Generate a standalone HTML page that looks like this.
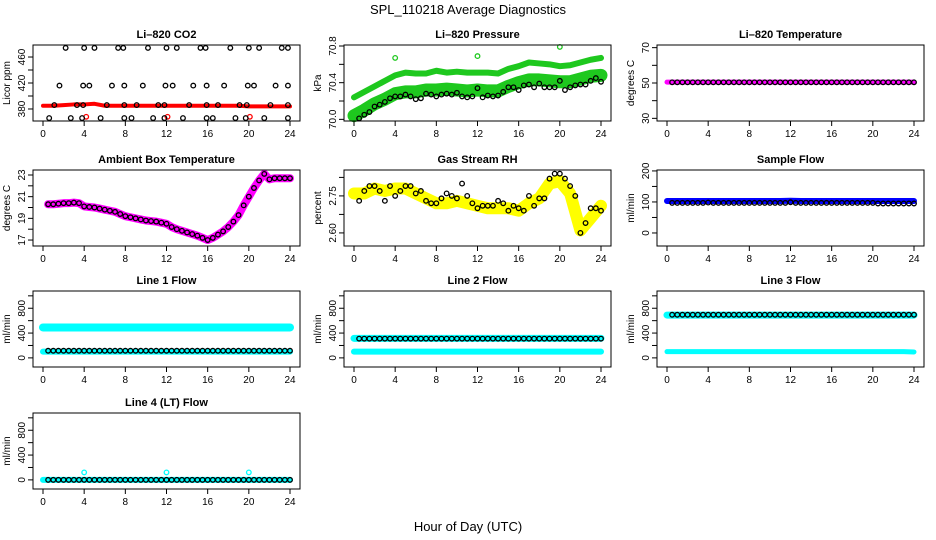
<!DOCTYPE html>
<html><head><meta charset="utf-8"><style>
html,body{margin:0;padding:0;background:#fff}
svg{display:block;font-family:"Liberation Sans",sans-serif}
</style></head><body>
<svg id="c" width="936" height="540" viewBox="0 0 936 540">
<text x="468" y="14" text-anchor="middle" font-size="13">SPL_110218  Average Diagnostics</text>
<text x="468" y="531" text-anchor="middle" font-size="13">Hour of Day (UTC)</text>
</svg>
<script>
// x categories
const hourly = [0,1,2,3,4,5,6,7,8,9,10,11,12,13,14,15,16,17,18,19,20,21,22,23,24];
const halfHours = [0.5,1,1.5,2,2.5,3,3.5,4,4.5,5,5.5,6,6.5,7,7.5,8,8.5,9,9.5,10,10.5,11,11.5,12,12.5,13,13.5,14,14.5,15,15.5,16,16.5,17,17.5,18,18.5,19,19.5,20,20.5,21,21.5,22,22.5,23,23.5,24];
const xTicks = [0,4,8,12,16,20,24];

// CO2
const co2Red = [385,385,386,387,387,388,385,385,385,385,385,385,385,385,385,385,385,385,385,385,384,384,384,384,384];
const co2TopHours = [2.2,4,5,7.3,7.8,10.2,12,13,15.3,15.8,18.2,20,21,23.2,23.8];
const co2MidHours = [1.6,3.9,4.5,6.7,7.9,9.7,11.9,12.6,14.6,15.9,17.6,19.9,20.5,22.6,23.8];
const co2LowHours = [1.1,3.3,3.9,6.2,7.9,9.1,11.2,11.8,14.2,15.9,17,19.1,19.8,22.1,23.8];
const co2BotHours = [0.6,2.7,3.8,5.6,7.9,8.6,10.7,11.8,13.6,15.9,16.5,18.7,19.7,21.5,23.8];
const co2Levels = [474,416,386,366];
const co2RedOutHours = [4.2,12.1,20.1];
const co2RedOutVals = [368,368,368];

// Pressure
const presUpper = [70.24,70.30,70.36,70.42,70.48,70.51,70.50,70.50,70.53,70.51,70.52,70.51,70.51,70.51,70.50,70.55,70.58,70.62,70.61,70.60,70.58,70.59,70.62,70.65,70.67];
const presLower = [70.04,70.10,70.17,70.22,70.28,70.30,70.30,70.32,70.32,70.33,70.32,70.31,70.32,70.31,70.31,70.36,70.40,70.43,70.43,70.42,70.41,70.41,70.44,70.47,70.48];
const presBlack = [70.01,70.05,70.08,70.14,70.16,70.19,70.23,70.25,70.25,70.27,70.25,70.22,70.23,70.28,70.27,70.25,70.27,70.28,70.27,70.29,70.25,70.24,70.25,70.34,70.24,70.26,70.25,70.26,70.30,70.35,70.35,70.32,70.37,70.38,70.35,70.39,70.35,70.35,70.35,70.42,70.32,70.35,70.37,70.38,70.38,70.42,70.45,70.41];
const presOutHours = [4,12,20,23.8];
const presOutVals = [70.67,70.69,70.79,70.51];

// Li-820 temperature
const tempMag = [50.5,50.5,50.5,50.5,50.5,50.5,50.5,50.5,50.5,50.5,50.5,50.5,50.5,50.5,50.5,50.5,50.5,50.5,50.5,50.5,50.5,50.5,50.5,50.5,50.5];
const tempBlack = [50.4,50.4,50.4,50.4,50.4,50.4,50.4,50.4,50.4,50.4,50.4,50.4,50.4,50.4,50.4,50.4,50.4,50.4,50.4,50.4,50.4,50.4,50.4,50.4,50.4,50.4,50.4,50.4,50.4,50.4,50.4,50.4,50.4,50.4,50.4,50.4,50.4,50.4,50.4,50.4,50.4,50.4,50.4,50.4,50.4,50.4,50.4,50.4];

// Ambient box temperature
const ambVals = [20.3,20.3,20.35,20.4,20.4,20.45,20.4,20.1,20.05,20.0,19.9,19.8,19.7,19.6,19.4,19.2,19.1,19.0,18.9,18.8,18.75,18.7,18.6,18.5,18.2,18.0,17.85,17.7,17.55,17.4,17.2,17.0,17.2,17.5,17.8,18.2,18.7,19.3,20.2,21.0,21.8,22.5,23.1,22.6,22.7,22.7,22.7,22.7];

// Gas stream RH
const rhYellow = [2.76,2.76,2.78,2.77,2.78,2.78,2.76,2.74,2.72,2.72,2.73,2.72,2.71,2.70,2.70,2.70,2.69,2.72,2.74,2.80,2.81,2.76,2.61,2.66,2.71];
const rhBlack = [2.73,2.77,2.79,2.79,2.77,2.73,2.79,2.75,2.77,2.79,2.79,2.76,2.77,2.73,2.72,2.72,2.74,2.76,2.75,2.74,2.80,2.75,2.72,2.70,2.71,2.71,2.71,2.73,2.72,2.69,2.71,2.70,2.69,2.75,2.71,2.74,2.74,2.82,2.84,2.84,2.82,2.79,2.75,2.60,2.64,2.70,2.70,2.69];

// Sample flow
const sfBlue = [103,103,103,103,103,103,103,103,103,103,103,103,104,103,103,103,103,103,103,103,103,103,103,103,103];
const sfBlack = [97,97,97,97,97,97,97,98,97,97,97,97,97,97,97,97,97,97,97,97,97,97,97,99,97,97,97,97,97,97,97,97,97,97,97,97,97,97,97,97,95,95,95,95,95,95,95,95];

// Line flows (mL/min)
const l1Upper = [490,490,490,490,490,490,490,490,490,490,490,490,490,490,490,490,490,490,490,490,490,490,490,490,490];
const l1Lower = [100,100,100,100,100,100,100,100,100,100,100,100,100,100,100,100,100,100,100,100,100,100,100,100,100];
const l1Black = [115,115,115,115,115,115,115,115,115,115,115,115,115,115,115,115,115,115,115,115,115,115,115,115,115,115,115,115,115,115,115,115,115,115,115,115,115,115,115,115,115,115,115,115,115,115,115,115];
const l2Upper = [315,315,315,315,315,315,315,315,315,315,315,315,315,315,315,315,315,315,315,315,315,315,315,315,315];
const l2Lower = [100,100,100,100,100,100,100,100,100,100,100,100,100,100,100,100,100,100,100,100,100,100,100,100,100];
const l2Black = [310,310,310,310,310,310,310,310,310,310,310,310,310,310,310,310,310,310,310,310,310,310,310,310,310,310,310,310,310,310,310,310,310,310,310,310,310,310,310,310,310,310,310,310,310,310,310,310];
const l3Upper = [690,690,690,690,690,690,690,690,690,690,690,690,690,690,690,690,690,690,690,690,690,690,690,690,690];
const l3Lower = [100,100,100,100,100,100,100,100,100,100,100,100,100,100,100,100,100,100,100,100,100,100,100,100,95];
const l3Black = [695,695,695,695,695,695,695,695,695,695,695,695,695,695,695,695,695,695,695,695,695,695,695,695,695,695,695,695,695,695,695,695,695,695,695,695,695,695,695,695,695,695,695,695,695,695,695,695];
const l4Cyan = [0,0,0,0,0,0,0,0,0,0,0,0,0,0,0,0,0,0,0,0,0,0,0,0,0];
const l4Black = [0,0,0,0,0,0,0,0,0,0,0,0,0,0,0,0,0,0,0,0,0,0,0,0,0,0,0,0,0,0,0,0,0,0,0,0,0,0,0,0,0,0,0,0,0,0,0,0];
const l4OutHours = [4,12,20];
const l4OutVals = [120,120,120];

const NS = 'http://www.w3.org/2000/svg';
const svg = document.getElementById('c');
const colX = [33, 344, 657], rowY = [45, 170, 291, 413], W = 267, H = 76;

function mk(tag, attrs, parent) {
  const e = document.createElementNS(NS, tag);
  for (const k in attrs) e.setAttribute(k, attrs[k]);
  (parent || svg).appendChild(e);
  return e;
}

function panel(name, col, row, title, ylab, ylim, yTicks, yLabels, draw) {
  const x0 = colX[col], y0 = rowY[row];
  const g = mk('g', {});
  
  
  const xs = h => x0 + 10 + h * 247 / 24;
  const ys = v => y0 + H - (v - ylim[0]) / (ylim[1] - ylim[0]) * H;
  const t = mk('text', {x: x0 + W / 2, y: y0 - 7, 'text-anchor': 'middle', 'font-size': 11, 'font-weight': 'bold'}, g);
  t.textContent = title;
  
  
  const yt = mk('text', {transform: `translate(${x0 - 23},${y0 + H / 2}) rotate(-90)`, 'text-anchor': 'middle', 'font-size': 10}, g);
  yt.textContent = ylab;
  
  
  const clip = mk('g', {}, g);
  
  
  draw(clip, xs, ys);
  const box = mk('rect', {x: x0, y: y0, width: W, height: H, fill: 'none', stroke: '#000', 'stroke-width': 1}, g);
  
  
  const xa = mk('g', {}, g);
  
  
  for (const h of xTicks) {
    mk('line', {x1: xs(h), x2: xs(h), y1: y0 + H, y2: y0 + H + 5, stroke: '#000'}, xa);
    const l = mk('text', {x: xs(h), y: y0 + H + 16, 'text-anchor': 'middle', 'font-size': 10}, xa);
    l.textContent = h;
  }
  const ya = mk('g', {}, g);
  
  
  for (const v of yTicks) {
    mk('line', {x1: x0 - 5, x2: x0, y1: ys(v), y2: ys(v), stroke: '#000'}, ya);
  }
  for (const v of yLabels) {
    const l = mk('text', {transform: `translate(${x0 - 8},${ys(v)}) rotate(-90)`, 'text-anchor': 'middle', 'font-size': 10}, ya);
    l.textContent = v;
  }
}

function band(g, xs, ys, hours, vals, color, width, name) {
  const p = mk('polyline', {points: hours.map((h, i) => xs(h) + ',' + ys(vals[i])).join(' '), fill: 'none', stroke: color, 'stroke-width': width, 'stroke-linejoin': 'round', 'stroke-linecap': 'round'}, g);
  
  
}
function pts(g, xs, ys, hours, vals, color, name) {
  const gg = mk('g', {}, g);
  
  
  hours.forEach((h, i) => mk('circle', {cx: xs(h), cy: ys(vals[i]), r: 2.3, fill: 'none', stroke: color, 'stroke-width': 1.3}, gg));
}

panel('co2', 0, 0, 'Li\u2013820 CO2', 'Licor ppm', [361.5, 478.5], [380,400,420,440,460], [380,420,460], (g, xs, ys) => {
  band(g, xs, ys, hourly, co2Red, '#f00', 4, 'co2-red-band');
  pts(g, xs, ys, co2RedOutHours, co2RedOutVals, '#f00', 'co2-red-outliers');
  pts(g, xs, ys, co2TopHours, co2TopHours.map(() => co2Levels[0]), '#000', 'co2-black-top');
  pts(g, xs, ys, co2MidHours, co2MidHours.map(() => co2Levels[1]), '#000', 'co2-black-mid');
  pts(g, xs, ys, co2LowHours, co2LowHours.map(() => co2Levels[2]), '#000', 'co2-black-low');
  pts(g, xs, ys, co2BotHours, co2BotHours.map(() => co2Levels[3]), '#000', 'co2-black-bottom');
});
panel('pressure', 1, 0, 'Li\u2013820 Pressure', 'kPa', [69.982, 70.811], [70.0,70.2,70.4,70.6,70.8], ['70.0','70.4','70.8'], (g, xs, ys) => {
  band(g, xs, ys, hourly, presUpper, '#1ec81e', 6, 'pressure-upper-band');
  band(g, xs, ys, hourly, presLower, '#1ec81e', 13, 'pressure-lower-band');
  pts(g, xs, ys, presOutHours, presOutVals, '#1ec81e', 'pressure-outliers');
  pts(g, xs, ys, halfHours, presBlack, '#000', 'pressure-black-points');
});
panel('li820-temp', 2, 0, 'Li\u2013820 Temperature', 'degrees C', [28.5, 71.5], [30,40,50,60,70], [30,50,70], (g, xs, ys) => {
  band(g, xs, ys, hourly, tempMag, '#f0f', 5, 'temp-magenta-band');
  pts(g, xs, ys, halfHours, tempBlack, '#000', 'temp-black-points');
});
panel('ambient', 0, 1, 'Ambient Box Temperature', 'degrees C', [16.45, 23.46], [17,18,19,20,21,22,23], [17,19,21,23], (g, xs, ys) => {
  band(g, xs, ys, halfHours, ambVals, '#f0f', 8, 'ambient-magenta-band');
  pts(g, xs, ys, halfHours, ambVals, '#000', 'ambient-black-points');
});
panel('rh', 1, 1, 'Gas Stream RH', 'percent', [2.547, 2.855], [2.60,2.675,2.75,2.825], ['2.60','2.75'], (g, xs, ys) => {
  band(g, xs, ys, hourly, rhYellow, '#ffff00', 12, 'rh-yellow-band');
  pts(g, xs, ys, halfHours, rhBlack, '#000', 'rh-black-points');
});
panel('sample-flow', 2, 1, 'Sample Flow', 'ml/min', [-42, 203], [0,50,100,150,200], [0,100,200], (g, xs, ys) => {
  band(g, xs, ys, hourly, sfBlue, '#0000ff', 6, 'sample-flow-blue-band');
  pts(g, xs, ys, halfHours, sfBlack, '#000', 'sample-flow-black-points');
});
const flowTicks = [0,200,400,600,800,1000], flowLabels = [0,400,800], flowLim = [-147, 1078];
panel('line1', 0, 2, 'Line 1 Flow', 'ml/min', flowLim, flowTicks, flowLabels, (g, xs, ys) => {
  band(g, xs, ys, hourly, l1Upper, '#00ffff', 8, 'line1-upper-band');
  band(g, xs, ys, hourly, l1Lower, '#00ffff', 6, 'line1-lower-band');
  pts(g, xs, ys, halfHours, l1Black, '#000', 'line1-black-points');
});
panel('line2', 1, 2, 'Line 2 Flow', 'ml/min', flowLim, flowTicks, flowLabels, (g, xs, ys) => {
  band(g, xs, ys, hourly, l2Upper, '#00ffff', 7, 'line2-upper-band');
  band(g, xs, ys, hourly, l2Lower, '#00ffff', 6, 'line2-lower-band');
  pts(g, xs, ys, halfHours, l2Black, '#000', 'line2-black-points');
});
panel('line3', 2, 2, 'Line 3 Flow', 'ml/min', flowLim, flowTicks, flowLabels, (g, xs, ys) => {
  band(g, xs, ys, hourly, l3Upper, '#00ffff', 7, 'line3-upper-band');
  band(g, xs, ys, hourly, l3Lower, '#00ffff', 5, 'line3-lower-band');
  pts(g, xs, ys, halfHours, l3Black, '#000', 'line3-black-points');
});
panel('line4', 0, 3, 'Line 4 (LT) Flow', 'ml/min', flowLim, flowTicks, flowLabels, (g, xs, ys) => {
  band(g, xs, ys, hourly, l4Cyan, '#00ffff', 6, 'line4-cyan-band');
  pts(g, xs, ys, l4OutHours, l4OutVals, '#00ffff', 'line4-outliers');
  pts(g, xs, ys, halfHours, l4Black, '#000', 'line4-black-points');
});
</script>
</body></html>
